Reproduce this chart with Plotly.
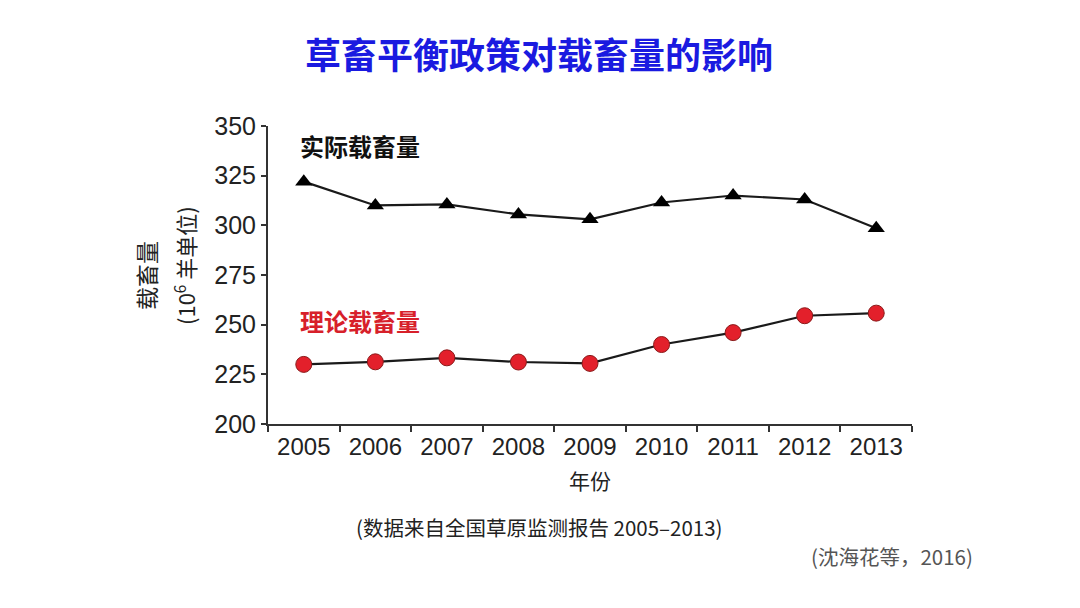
import plotly.graph_objects as go

years = ["2005", "2006", "2007", "2008", "2009", "2010", "2011", "2012", "2013"]
actual = [322, 310, 310.5, 305.5, 303, 311.5, 315, 313, 298.5]
theory = [230, 231.3, 233.3, 231.2, 230.5, 240, 246, 254.5, 255.8]
y_ticks = [200, 225, 250, 275, 300, 325, 350]

FONT = "Liberation Sans, Arial, Noto Sans CJK SC, sans-serif"
CJK = "Noto Sans CJK SC, sans-serif"

fig = go.Figure()
fig.add_trace(go.Scatter(
    x=years, y=actual, mode="lines+markers",
    line=dict(color="#1a1a1a", width=2.2),
    marker=dict(symbol="triangle-up", size=15, color="#000000"),
    showlegend=False, cliponaxis=False))
fig.add_trace(go.Scatter(
    x=years, y=theory, mode="lines+markers",
    line=dict(color="#1a1a1a", width=2.2),
    marker=dict(symbol="circle", size=16, color="#e3202b",
                line=dict(color="#8a1a1a", width=1)),
    showlegend=False, cliponaxis=False))

fig.update_layout(
    width=1080, height=608,
    margin=dict(l=268, r=168, t=126, b=184),
    paper_bgcolor="white", plot_bgcolor="white",
    font=dict(family=FONT, color="#222222", size=20),
    xaxis=dict(type="category", range=[-0.5, 8.5],
               showline=True, linecolor="#333333", linewidth=2,
               ticks="outside", ticklen=6, tickwidth=1.5, tickcolor="#333333",
               tickson="boundaries", showgrid=False, zeroline=False,
               tickfont=dict(size=24, family=FONT, color="#222222")),
    yaxis=dict(range=[200, 350], tickvals=y_ticks,
               showline=True, linecolor="#333333", linewidth=2,
               ticks="outside", ticklen=5, tickwidth=1.5, tickcolor="#333333",
               ticklabelstandoff=0,
               showgrid=False, zeroline=False,
               tickfont=dict(size=25, family=FONT, color="#222222")),
)

fig.add_annotation(text="<b>草畜平衡政策对载畜量的影响</b>", xref="paper", yref="paper",
                   x=0.5, y=1, xanchor="center", yanchor="middle",
                   xshift=-51, yshift=73, showarrow=False,
                   font=dict(family=CJK, size=36, color="#1a1ae0"))
fig.add_annotation(text="<b>实际载畜量</b>", xref="paper", yref="paper",
                   x=0, y=1, xanchor="left", yanchor="middle",
                   xshift=30, yshift=-19, showarrow=False,
                   font=dict(family=CJK, size=24, color="#111111"))
fig.add_annotation(text="<b>理论载畜量</b>", xref="paper", yref="paper",
                   x=0, y=1, xanchor="left", yanchor="middle",
                   xshift=30, yshift=-194, showarrow=False,
                   font=dict(family=CJK, size=24, color="#d7202a"))
fig.add_annotation(text="载畜量", xref="paper", yref="paper",
                   x=0, y=0.5, xanchor="center", yanchor="middle",
                   xshift=-122, yshift=-1, textangle=-90, showarrow=False,
                   font=dict(family=CJK, size=23, color="#222222"))
fig.add_annotation(text="(10<sup>6</sup> 羊单位)", xref="paper", yref="paper",
                   x=0, y=0.5, xanchor="center", yanchor="middle",
                   xshift=-84, yshift=9, textangle=-90, showarrow=False,
                   font=dict(family=CJK, size=22, color="#222222"))
fig.add_annotation(text="年份", xref="paper", yref="paper",
                   x=0.5, y=0, xanchor="center", yanchor="middle",
                   xshift=0, yshift=-56, showarrow=False,
                   font=dict(family=CJK, size=21, color="#222222"))
fig.add_annotation(text="(数据来自全国草原监测报告 2005–2013)", xref="paper", yref="paper",
                   x=0.5, y=0, xanchor="center", yanchor="middle",
                   xshift=-51, yshift=-103, showarrow=False,
                   font=dict(family=CJK, size=20.5, color="#222222"))
fig.add_annotation(text="(沈海花等，2016)", xref="paper", yref="paper",
                   x=1, y=0, xanchor="right", yanchor="middle",
                   xshift=63, yshift=-132, showarrow=False,
                   font=dict(family=CJK, size=20.5, color="#555555"))

fig.write_html("out.html")
